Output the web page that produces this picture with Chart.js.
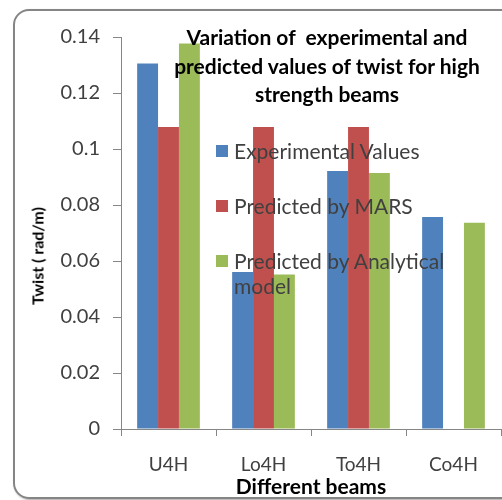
<!DOCTYPE html>
<html>
<head>
<meta charset="utf-8">
<script src="https://cdn.jsdelivr.net/npm/chart.js@4/dist/chart.umd.min.js"></script>
<style>
    body { margin: 0; background: #fff; }
    #wrap { position: relative; width: 502px; height: 500px; overflow: hidden; font-family: Lato, "Open Sans", sans-serif; }
    #frame {
        position: absolute; left: 13px; top: 9px; width: 500px; height: 486px;
        border: 2px solid #858585; border-radius: 16px;
        box-shadow: 1px 1px 2px rgba(0,0,0,0.35);
    }
    #chart { position: absolute; left: 0; top: 0; }
    #title {
        position: absolute; left: 327px; top: 23px; transform: translateX(-50%);
        white-space: nowrap; text-align: center; font-weight: bold; font-size: 21px; line-height: 28.5px; color: #000;
    }
    #ytitle {
        position: absolute; left: 37px; top: 256px; white-space: nowrap;
        transform: translate(-50%, -50%) rotate(-90deg);
        font-weight: bold; font-size: 16px; color: #000;
    }
    #legend { position: absolute; left: 216px; top: 138px; font-size: 21px; color: #404040; }
    #legend .item { position: relative; padding-left: 18px; line-height: 25px; margin-bottom: 30px; width: 227px; }
    #legend .box { position: absolute; left: 0; top: 7px; width: 12px; height: 12px; }
</style>
</head>
<body>
<div id="wrap">
    <div id="frame"></div>
    <canvas id="chart" width="502" height="500"></canvas>
    <div id="title">Variation of&nbsp; experimental and<br>predicted values of twist for high<br>strength beams</div>
    <div id="ytitle">Twist ( rad/m)</div>
    <div id="legend"></div>
</div>
<script>
// Data
const beams = ['U4H', 'Lo4H', 'To4H', 'Co4H'];
const experimental = [0.1305, 0.0561, 0.0921, 0.0757];
const predictedMars = [0.1079, 0.1079, 0.1079, null];
const predictedAnalytical = [0.1377, 0.0552, 0.0914, 0.0737];
const yTickLabels = ['0', '0.02', '0.04', '0.06', '0.08', '0.1', '0.12', '0.14'];
const seriesNames = ['Experimental Values', 'Predicted by MARS', 'Predicted by Analytical model'];
const seriesColors = ['#4F81BD', '#C0504D', '#9BBB59'];

const axisColor = '#868686';
const fontFamily = 'Lato, "Open Sans", sans-serif';

const datasets = [experimental, predictedMars, predictedAnalytical].map((values, i) => ({
    label: seriesNames[i],
    data: values,
    backgroundColor: seriesColors[i],
    borderWidth: 0
}));

new Chart(document.getElementById('chart').getContext('2d'), {
    type: 'bar',
    data: { labels: beams, datasets: datasets },
    options: {
        responsive: false,
        animation: false,
        layout: { padding: { top: 37, right: 1, left: 0, bottom: 0 } },
        plugins: {
            legend: { display: false },
            title: { display: false },
            tooltip: { enabled: false }
        },
        datasets: { bar: { categoryPercentage: 0.66, barPercentage: 1 } },
        scales: {
            x: {
                grid: { drawOnChartArea: false, drawTicks: true, tickLength: 7, color: axisColor, offset: true },
                border: { color: axisColor, width: 1 },
                ticks: { color: '#404040', font: { family: fontFamily, size: 19 }, padding: 17 },
                title: {
                    display: true, text: 'Different beams', color: '#000',
                    font: { family: fontFamily, size: 21, weight: 'bold' },
                    padding: { top: 0, bottom: 0 }
                },
                afterFit: scale => { scale.height = 71; }
            },
            y: {
                min: 0, max: 0.14,
                grid: { drawOnChartArea: false, drawTicks: true, tickLength: 8, color: axisColor },
                border: { color: axisColor, width: 1 },
                ticks: {
                    stepSize: 0.02, color: '#404040', font: { family: fontFamily, size: 20 }, padding: 13,
                    callback: (v, i) => yTickLabels[i]
                },
                afterFit: scale => { scale.width = 121; }
            }
        }
    }
});

// legend sits inside the plot, as in the original
const legend = document.getElementById('legend');
seriesNames.forEach((name, i) => {
    const item = document.createElement('div');
    item.className = 'item';
    item.innerHTML = '<span class="box" style="background:' + seriesColors[i] + '"></span>' + name;
    legend.appendChild(item);
});
</script>
</body>
</html>
